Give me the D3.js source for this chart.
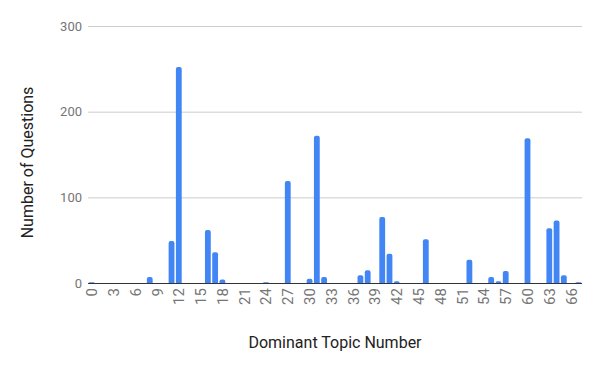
<!DOCTYPE html>
<meta charset="utf-8">
<html>
  <head>
    <style>
      body { margin: 0; background: #fff; }
      text { font-family: Roboto, Arial, sans-serif; }
      .grid line { stroke: #ccc; }
      .tick-y { font-size: 13px; fill: #757575; }
      .tick-x { font-size: 15px; fill: #757575; }
      .title { font-size: 16px; fill: #222; }
    </style>
    <script src="https://cdn.jsdelivr.net/npm/d3@7"></script>
  </head>
  <body>
    <div id="chart"></div>
    <script>
    // topics 0..67, only the non-zero ones listed
    var topics = [0, 8, 11, 12, 16, 17, 18, 24, 27, 30, 31, 32, 37, 38, 40, 41, 42, 46, 52, 55, 56, 57, 60, 63, 64, 65, 67];
    var counts = [1, 7, 49, 252, 62, 36, 4, 1, 119, 5, 172, 7, 9, 15, 77, 34, 2, 51, 27, 7, 2, 14, 169, 64, 73, 9, 1];
    var yTicks = [0, 100, 200, 300];
    var nTopics = 68;

    var width = 600, height = 371;
    var mLeft = 88, mRight = 582, mTop = 26, mBottom = 283;

    var svg = d3.select("#chart").append("svg")
      .attr("width", width)
      .attr("height", height);

    var cats = d3.range(nTopics);
    var x = d3.scaleBand()
      .domain(cats)
      .range([mLeft, mRight])
      .paddingInner(0.2)
      .paddingOuter(0.1);

    var y = d3.scaleLinear()
      .domain([0, 300])
      .range([mBottom, mTop]);

    // gridlines
    svg.append("g").attr("class", "grid")
      .selectAll("line")
      .data(yTicks.filter(function(d) { return d > 0; }))
      .enter().append("line")
      .attr("x1", mLeft).attr("x2", mRight)
      .attr("y1", function(d) { return y(d) + 0.5; })
      .attr("y2", function(d) { return y(d) + 0.5; });

    svg.selectAll(".tick-y")
      .data(yTicks)
      .enter().append("text")
      .attr("class", "tick-y")
      .attr("x", mLeft - 6)
      .attr("y", function(d) { return y(d) + 4.5; })
      .attr("text-anchor", "end")
      .text(function(d) { return d; });

    // bars with rounded tops
    var r = 2;
    svg.selectAll(".bar")
      .data(topics)
      .enter().append("path")
      .attr("class", "bar")
      .attr("fill", "#4285f4")
      .attr("d", function(d, i) {
        var x0 = x(d), w = x.bandwidth(), y0 = y(counts[i]), h = mBottom - y0;
        var rr = Math.min(r, h, w / 2);
        return "M" + x0 + "," + mBottom +
          "V" + (y0 + rr) +
          "Q" + x0 + "," + y0 + " " + (x0 + rr) + "," + y0 +
          "H" + (x0 + w - rr) +
          "Q" + (x0 + w) + "," + y0 + " " + (x0 + w) + "," + (y0 + rr) +
          "V" + mBottom + "Z";
      });

    // baseline
    svg.append("line")
      .attr("x1", mLeft).attr("x2", mRight)
      .attr("y1", mBottom + 0.5).attr("y2", mBottom + 0.5)
      .attr("stroke", "#333");

    // x labels, every 3rd topic, rotated
    svg.selectAll(".tick-x")
      .data(cats.filter(function(d) { return d % 3 === 0; }))
      .enter().append("text")
      .attr("class", "tick-x")
      .attr("text-anchor", "end")
      .attr("transform", function(d) {
        return "translate(" + (x(d) + x.bandwidth() / 2 + 5.5) + "," + (mBottom + 5) + ") rotate(-90)";
      })
      .text(function(d) { return d; });

    svg.append("text")
      .attr("class", "title")
      .attr("x", (mLeft + mRight) / 2)
      .attr("y", 348)
      .attr("text-anchor", "middle")
      .text("Dominant Topic Number");

    svg.append("text")
      .attr("class", "title")
      .attr("text-anchor", "middle")
      .attr("transform", "translate(33," + ((mTop + mBottom) / 2 + 8) + ") rotate(-90)")
      .text("Number of Questions");
    </script>
  </body>
</html>
